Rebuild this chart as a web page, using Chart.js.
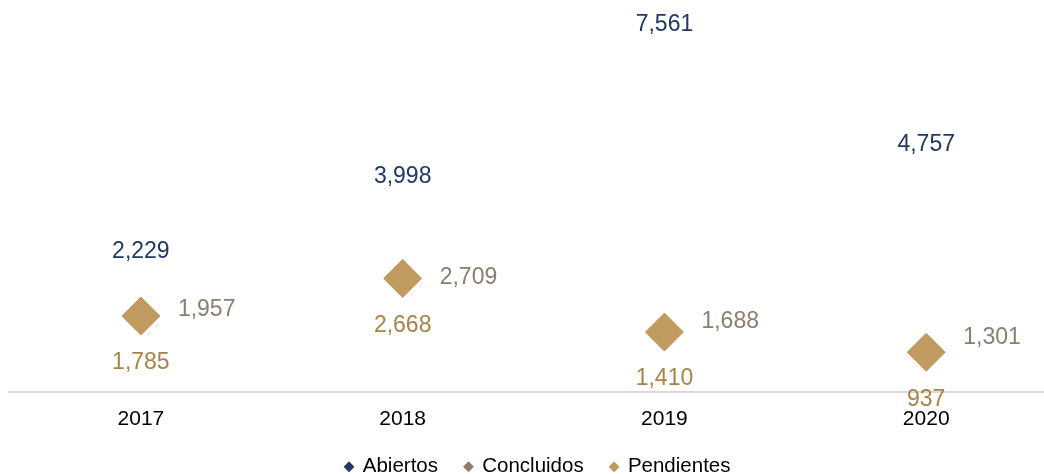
<!DOCTYPE html>
<html>
<head>
<meta charset="utf-8">
<script src="https://cdn.jsdelivr.net/npm/chart.js@4"></script>
<style>
  html, body { margin: 0; padding: 0; background: #fff; }
  #wrap { width: 1044px; height: 474px; position: relative; }
</style>
</head>
<body>
<div id="wrap"><canvas id="chart"></canvas></div>
<script>
// data
var years = ['2017', '2018', '2019', '2020'];
var abiertos = [2229, 3998, 7561, 4757];
var concluidos = [1957, 2709, 1688, 1301];
var pendientes = [1785, 2668, 1410, 937];

var C_ABIERTOS = '#1F3864';
var C_CONCLUIDOS = '#8C7E6E';
var C_PENDIENTES = '#C19A5F';
var C_PEND_TEXT = '#A98248';

function pts(arr){
	return arr.map(function(v, i){ return {x: i, y: v}; });
}

function fmt(v){ return v.toLocaleString('en-US'); }

// data labels: abiertos above, concluidos right, pendientes below
var labelPlugin = {
	id: 'valueLabels',
	afterLayout: function(chart){
		// legend sits a bit right of centre in the original
		if(chart.legend){ chart.legend.left += 11; chart.legend.right += 11; }
	},
	afterDatasetsDraw: function(chart){
		var ctx = chart.ctx;
		ctx.save();
		ctx.font = '23px "Liberation Sans", Arial, sans-serif';
		ctx.textBaseline = 'middle';
		chart.data.datasets.forEach(function(ds, di){
			var meta = chart.getDatasetMeta(di);
			meta.data.forEach(function(pt, i){
				var v = ds.data[i].y;
				ctx.fillStyle = ds.labelColor;
				if(ds.labelPos == 'top'){
					ctx.textAlign = 'center';
					ctx.fillText(fmt(v), pt.x, pt.y - 45);
				} else if(ds.labelPos == 'bottom'){
					ctx.textAlign = 'center';
					ctx.fillText(fmt(v), pt.x, pt.y + 47);
				} else {
					ctx.textAlign = 'left';
					ctx.fillText(fmt(v), pt.x + 37, pt.y + 1);
				}
			});
		});
		ctx.restore();
	}
};

var chart = new Chart(document.getElementById('chart'), {
	type: 'scatter',
	data: {
		datasets: [
			{label: 'Abiertos', data: pts(abiertos), backgroundColor: C_ABIERTOS, borderColor: C_ABIERTOS,
			 pointRadius: 0, pointStyle: 'rectRot', labelColor: C_ABIERTOS, labelPos: 'top'},
			{label: 'Concluidos', data: pts(concluidos), backgroundColor: C_CONCLUIDOS, borderColor: C_CONCLUIDOS,
			 pointRadius: 0, pointStyle: 'rectRot', labelColor: C_CONCLUIDOS, labelPos: 'right'},
			{label: 'Pendientes', data: pts(pendientes), backgroundColor: C_PENDIENTES, borderColor: C_PENDIENTES,
			 pointRadius: 19, pointBorderWidth: 1, pointStyle: 'rectRot', labelColor: C_PEND_TEXT, labelPos: 'bottom'}
		]
	},
	options: {
		responsive: true,
		maintainAspectRatio: false,
		animation: false,
		layout: {autoPadding: false, padding: {left: 10, right: 0, top: 8, bottom: -13}},
		scales: {
			x: {
				type: 'linear',
				min: -0.5,
				max: 3.45,
				afterBuildTicks: function(axis){
					axis.ticks = years.map(function(y, i){ return {value: i}; });
				},
				afterFit: function(axis){
					axis.paddingLeft = 0;
					axis.paddingRight = 0;
					axis.height -= 16;
				},
				ticks: {
					color: '#000',
					padding: 14,
					font: {family: '"Liberation Sans", Arial, sans-serif', size: 21},
					callback: function(v){ return years[v]; }
				},
				grid: {display: false, drawTicks: false},
				border: {display: true, color: '#D9D9D9', width: 2}
			},
			y: {
				display: false,
				min: 0,
				max: 9000
			}
		},
		plugins: {
			legend: {
				position: 'bottom',
				labels: {
					usePointStyle: true,
					pointStyle: 'rectRot',
					boxWidth: 7,
					boxHeight: 7,
					padding: 27,
					color: '#000',
					font: {family: '"Liberation Sans", Arial, sans-serif', size: 20.5}
				}
			},
			tooltip: {enabled: false}
		}
	},
	plugins: [labelPlugin]
});
</script>
</body>
</html>
